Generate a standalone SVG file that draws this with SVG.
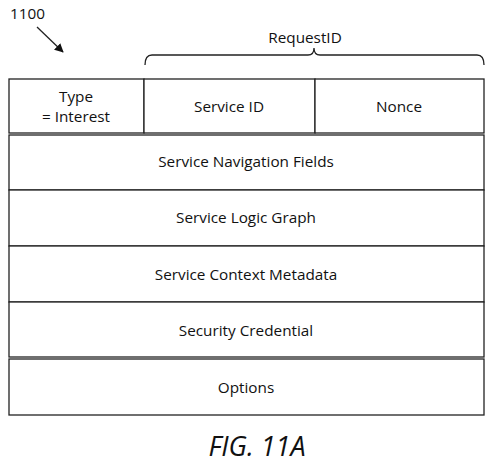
<svg xmlns="http://www.w3.org/2000/svg" width="502" height="465" viewBox="0 0 502 465">
<style>
.box{fill:#fff;stroke:#222;stroke-width:1.3}
.ln{stroke:#222;stroke-width:1.3;fill:none}
.t{font-family:"Open Sans","Liberation Sans",sans-serif;font-size:15.3px;fill:#111;text-anchor:middle}
</style>
<defs>
<marker id="ah" viewBox="0 0 10 10" refX="9" refY="5" markerWidth="9" markerHeight="9" markerUnits="userSpaceOnUse" orient="auto">
<path d="M0,0 L10,5 L0,10 z" fill="#111"/>
</marker>
</defs>
<rect width="502" height="465" fill="#fff"/>
<text class="t" x="10" y="19" style="text-anchor:start">1100</text>
<g id="connectors">
<line class="ln" x1="37" y1="27" x2="63" y2="52" marker-end="url(#ah)"/>
<path class="ln" d="M145,65 Q145,55 152,55 L308,55 Q314,55 314,48 Q314,55 320,55 L477,55 Q484,55 484,65"/>
</g>
<text class="t" x="305" y="43">RequestID</text>
<g id="type">
<rect class="box" x="9" y="79" width="135" height="54"/>
<text class="t" x="76" y="102">Type</text>
<text class="t" x="76" y="122">= Interest</text>
</g>
<g id="serviceid">
<rect class="box" x="144" y="79" width="171" height="54"/>
<text class="t" x="229" y="112">Service ID</text>
</g>
<g id="nonce">
<rect class="box" x="315" y="79" width="169" height="54"/>
<text class="t" x="399" y="112">Nonce</text>
</g>
<g id="nav">
<rect class="box" x="9" y="135" width="475" height="55"/>
<text class="t" x="246" y="167">Service Navigation Fields</text>
</g>
<g id="logic">
<rect class="box" x="9" y="190" width="475" height="56"/>
<text class="t" x="246" y="223">Service Logic Graph</text>
</g>
<g id="context">
<rect class="box" x="9" y="246" width="475" height="56"/>
<text class="t" x="246" y="280">Service Context Metadata</text>
</g>
<g id="security">
<rect class="box" x="9" y="302" width="475" height="55"/>
<text class="t" x="246" y="336">Security Credential</text>
</g>
<g id="options">
<rect class="box" x="9" y="359" width="475" height="56"/>
<text class="t" x="246" y="393">Options</text>
</g>
<text x="257" y="456" style="font-family:'Open Sans','Liberation Sans',sans-serif;font-size:27px;font-style:italic;fill:#111;text-anchor:middle">FIG. 11A</text>
</svg>
